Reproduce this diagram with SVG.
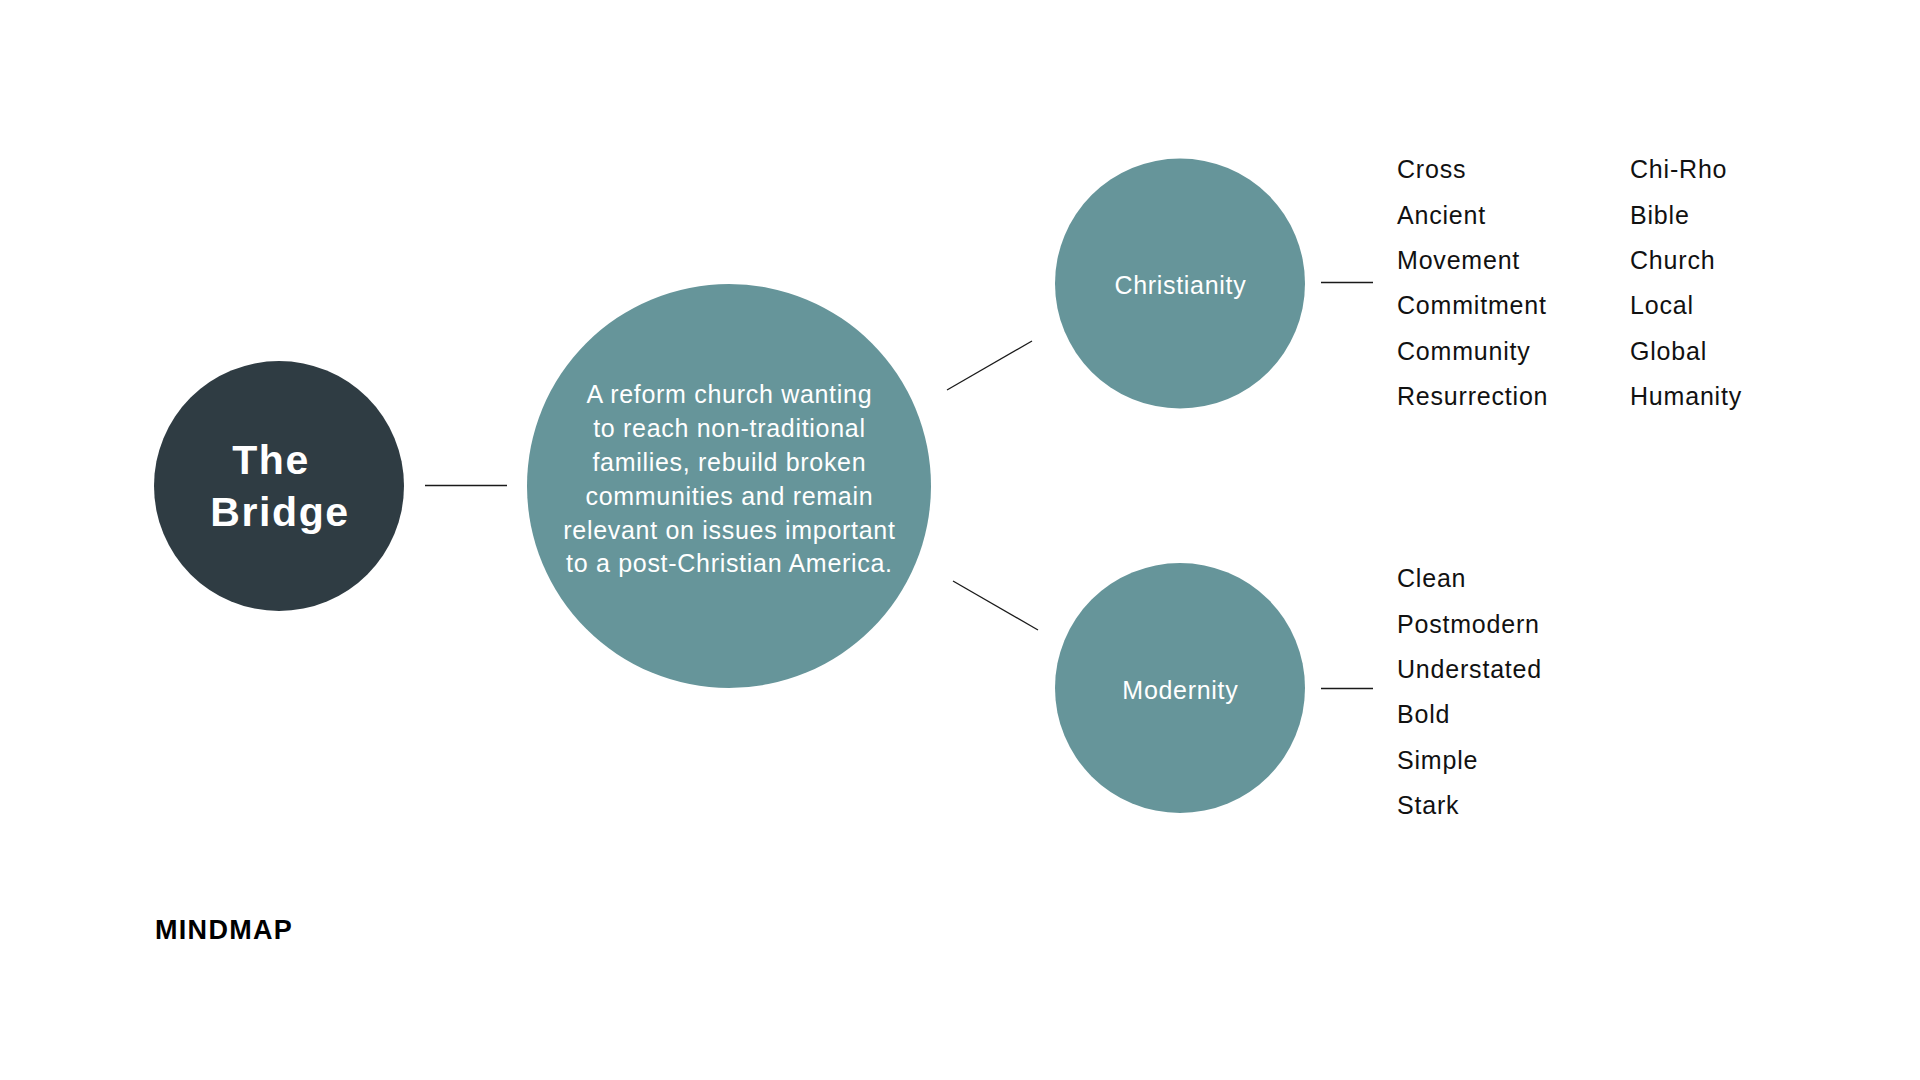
<svg xmlns="http://www.w3.org/2000/svg" width="1920" height="1080" viewBox="0 0 1920 1080">
  <style>
    .bg { fill: #ffffff; }
    .dark { fill: #2f3c43; }
    .teal { fill: #66959a; }
    .conn { stroke: #1a1a1a; stroke-width: 1.3; fill: none; }
    .title { font-family: "Liberation Sans", Arial, sans-serif; font-weight: bold; font-size: 41px; letter-spacing: 1.6px; fill: #ffffff; text-anchor: middle; }
    .body { font-family: "Liberation Sans", Arial, sans-serif; font-size: 25px; letter-spacing: 0.7px; fill: #ffffff; text-anchor: middle; }
    .item { font-family: "Liberation Sans", Arial, sans-serif; font-size: 25px; letter-spacing: 0.8px; fill: #111111; }
    .label { font-family: "Liberation Sans", Arial, sans-serif; font-weight: bold; font-size: 27px; letter-spacing: 1.3px; fill: #000000; }
  </style>
  <rect class="bg" x="0" y="0" width="1920" height="1080"/>

  <g id="connectors">
    <line class="conn" x1="425" y1="485.5" x2="507" y2="485.5"/>
    <line class="conn" x1="947" y1="390" x2="1032" y2="341"/>
    <line class="conn" x1="953" y1="581" x2="1038" y2="630"/>
    <line class="conn" x1="1321" y1="282.5" x2="1373" y2="282.5"/>
    <line class="conn" x1="1321" y1="688.5" x2="1373" y2="688.5"/>
  </g>

  <g id="node-the-bridge">
    <circle class="dark" cx="279" cy="486" r="125"/>
    <text class="title" x="271" y="474">The</text>
    <text class="title" x="280" y="526">Bridge</text>
  </g>

  <g id="node-mission">
    <circle class="teal" cx="729" cy="486" r="202"/>
    <text class="body" x="729.4" y="403">A reform church wanting</text>
    <text class="body" x="729.4" y="437">to reach non-traditional</text>
    <text class="body" x="729.4" y="471">families, rebuild broken</text>
    <text class="body" x="729.4" y="505">communities and remain</text>
    <text class="body" x="729.4" y="538.5">relevant on issues important</text>
    <text class="body" x="729.4" y="572">to a post-Christian America.</text>
  </g>

  <g id="node-christianity">
    <circle class="teal" cx="1180" cy="283.5" r="125"/>
    <text class="body" x="1180.4" y="294">Christianity</text>
  </g>

  <g id="node-modernity">
    <circle class="teal" cx="1180" cy="688" r="125"/>
    <text class="body" x="1180.4" y="699">Modernity</text>
  </g>

  <g id="list-christianity-1">
    <text class="item" x="1397" y="178">Cross</text>
    <text class="item" x="1397" y="223.5">Ancient</text>
    <text class="item" x="1397" y="269">Movement</text>
    <text class="item" x="1397" y="314">Commitment</text>
    <text class="item" x="1397" y="359.5">Community</text>
    <text class="item" x="1397" y="405">Resurrection</text>
  </g>

  <g id="list-christianity-2">
    <text class="item" x="1630" y="178">Chi-Rho</text>
    <text class="item" x="1630" y="223.5">Bible</text>
    <text class="item" x="1630" y="269">Church</text>
    <text class="item" x="1630" y="314">Local</text>
    <text class="item" x="1630" y="359.5">Global</text>
    <text class="item" x="1630" y="405">Humanity</text>
  </g>

  <g id="list-modernity">
    <text class="item" x="1397" y="587">Clean</text>
    <text class="item" x="1397" y="632.5">Postmodern</text>
    <text class="item" x="1397" y="678">Understated</text>
    <text class="item" x="1397" y="723">Bold</text>
    <text class="item" x="1397" y="768.5">Simple</text>
    <text class="item" x="1397" y="814">Stark</text>
  </g>

  <g id="caption">
    <text class="label" x="155" y="939">MINDMAP</text>
  </g>
</svg>
